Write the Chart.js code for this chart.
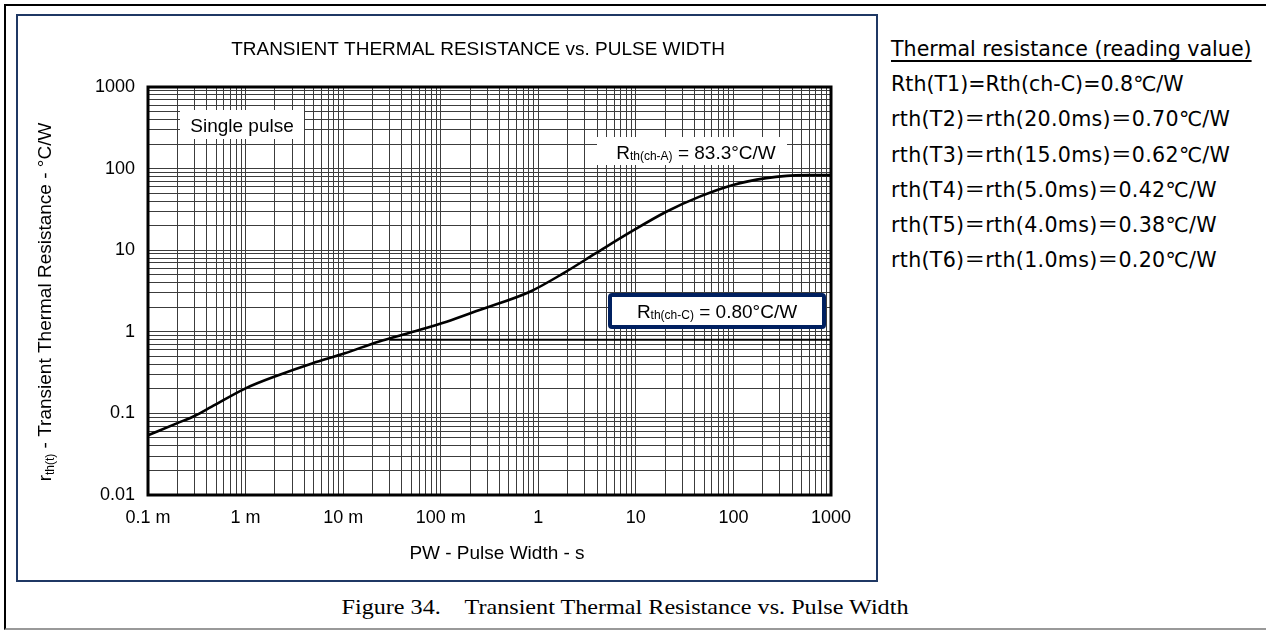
<!DOCTYPE html>
<html>
<head>
<meta charset="utf-8">
<title>Transient Thermal Resistance vs. Pulse Width</title>
<script src="https://cdn.jsdelivr.net/npm/chart.js@4.4.1/dist/chart.umd.min.js"></script>
<style>
  html, body { margin: 0; padding: 0; background: #fff; }
  #page { position: relative; width: 1266px; height: 632px; overflow: hidden; }
  #outer { position: absolute; left: 4px; top: 4px; width: 1270px; height: 622px;
           border-top: 2px solid #000; border-left: 2px solid #000; border-bottom: 2px solid #999; }
  #frame { position: absolute; left: 16px; top: 14px; width: 858px; height: 564px;
           border: 2px solid #1f3864; }
  #chartBox { position: absolute; left: 0; top: 0; }
  #readings { position: absolute; left: 891px; top: 32px; font-family: "DejaVu Sans", "Noto Sans CJK JP", sans-serif;
              font-size: 20.6px; line-height: 35.2px; color: #000; white-space: nowrap; }
  #readings .head { text-decoration: underline; text-decoration-thickness: 2px; text-underline-offset: 4px; }
  #readings .eq { letter-spacing: 0.3px; }
  #caption { position: absolute; left: 0; width: 1250px; top: 595px; text-align: center;
             font-family: "Liberation Serif", "Times New Roman", serif; font-size: 21px; color: #000;
             white-space: pre; transform: scaleX(1.15); transform-origin: 625px 0; }
</style>
</head>
<body>
<div id="page">
  <div id="outer"></div>
  <div id="frame"></div>
  <canvas id="chartBox" width="880" height="585"></canvas>
  <div id="readings"></div>
  <div id="caption"></div>
</div>

<script>
// pulse width (s) and transient thermal resistance (°C/W), single pulse
var pulseWidth   = [1e-4, 2e-4, 3e-4, 4.5e-4, 1e-3, 2.2e-3, 4.8e-3, 0.0104, 0.023, 0.052,
                    0.115, 0.25, 0.82, 1.8, 3.9, 8.6, 20.5, 45, 99, 217, 350, 600, 1000];
var transientRth = [0.054, 0.076, 0.093, 0.121, 0.203, 0.296, 0.41, 0.545, 0.757, 1.0,
                    1.33, 1.85, 3.1, 5.2, 9.2, 16.4, 29.6, 45.3, 63, 76.5, 81.5, 83.1, 83.3];

// steady state values
var rthChC = 0.80;
var rthChA = 83.3;
var rthChCFrom = 0.03;

// axis decades and their labels
var xDecades = [1e-4, 1e-3, 1e-2, 1e-1, 1, 10, 100, 1000];
var xTickLabels = ["0.1 m", "1 m", "10 m", "100 m", "1", "10", "100", "1000"];
var yDecades = [0.01, 0.1, 1, 10, 100, 1000];
var yTickLabels = ["0.01", "0.1", "1", "10", "100", "1000"];
var minorSteps = [1, 2, 3, 4, 5, 6, 7, 8, 9];

var readingLines = [
  "Thermal resistance (reading value)",
  "Rth(T1)=Rth(ch-C)=0.8℃/W",
  "rth(T2)＝rth(20.0ms)＝0.70℃/W",
  "rth(T3)＝rth(15.0ms)＝0.62℃/W",
  "rth(T4)＝rth(5.0ms)＝0.42℃/W",
  "rth(T5)＝rth(4.0ms)＝0.38℃/W",
  "rth(T6)＝rth(1.0ms)＝0.20℃/W"
];
var captionText = "Figure 34.    Transient Thermal Resistance vs. Pulse Width";

var FONT = "'Liberation Sans', Arial, sans-serif";

// side text
var rd = document.getElementById("readings");
readingLines.forEach(function (s, i) {
  var d = document.createElement("div");
  d.textContent = s;
  d.className = i === 0 ? "head" : (i > 1 ? "eq" : "");
  rd.appendChild(d);
});
document.getElementById("caption").textContent = captionText;

function gridTicks(decades) {
  var t = [];
  for (var i = 0; i < decades.length; i++) {
    if (i === decades.length - 1) { t.push({value: decades[i]}); break; }
    for (var j = 0; j < minorSteps.length; j++) {
      t.push({value: +(decades[i] * minorSteps[j]).toPrecision(6)});
    }
  }
  return t;
}

function labelFor(decades, labels) {
  return function (value) {
    for (var i = 0; i < decades.length; i++) {
      if (Math.abs(value / decades[i] - 1) < 1e-6) return labels[i];
    }
    return "";
  };
}

// draws text made of runs, some of them subscripts
function drawRuns(ctx, runs, x, y, align) {
  var w = 0;
  runs.forEach(function (r) { ctx.font = r.size + "px " + FONT; r.w = ctx.measureText(r.t).width; w += r.w; });
  var cx = align === "center" ? x - w / 2 : x;
  ctx.textAlign = "left";
  ctx.textBaseline = "alphabetic";
  runs.forEach(function (r) {
    ctx.font = r.size + "px " + FONT;
    ctx.fillText(r.t, cx, y + (r.dy || 0));
    cx += r.w;
  });
  return w;
}

var decorPlugin = {
  id: "decor",
  afterDatasetsDraw: function (chart) {
    var ctx = chart.ctx, a = chart.chartArea;
    ctx.save();

    // "Single pulse" label
    ctx.fillStyle = "#fff";
    ctx.fillRect(a.left + 32, a.top + 23, 124, 29);
    ctx.fillStyle = "#000";
    drawRuns(ctx, [{t: "Single pulse", size: 19}], a.left + 94, a.top + 45, "center");

    // Rth(ch-A) label
    ctx.fillStyle = "#fff";
    ctx.fillRect(a.left + 449, a.top + 50, 190, 28);
    ctx.fillStyle = "#000";
    drawRuns(ctx, [{t: "R", size: 19}, {t: "th(ch-A)", size: 12, dy: 1},
                   {t: " = " + rthChA.toFixed(1) + "°C/W", size: 19}], a.left + 548, a.top + 72, "center");

    // Rth(ch-C) label in a framed box
    ctx.fillStyle = "#fff";
    ctx.strokeStyle = "#002060";
    ctx.lineWidth = 4;
    ctx.beginPath();
    ctx.roundRect(a.left + 462, a.top + 208, 214, 32, 2);
    ctx.fill();
    ctx.stroke();
    ctx.fillStyle = "#000";
    drawRuns(ctx, [{t: "R", size: 19}, {t: "th(ch-C)", size: 12, dy: 1},
                   {t: " = " + rthChC.toFixed(2) + "°C/W", size: 19}], a.left + 569, a.top + 231, "center");

    // plot frame
    ctx.strokeStyle = "#000";
    ctx.lineWidth = 3;
    ctx.strokeRect(a.left, a.top, a.right - a.left, a.bottom - a.top);
    ctx.restore();
  },
  afterDraw: function (chart) {
    var ctx = chart.ctx;
    ctx.save();
    ctx.fillStyle = "#000";
    // chart title
    drawRuns(ctx, [{t: "TRANSIENT THERMAL RESISTANCE vs. PULSE WIDTH", size: 19}], 478, 55, "center");
    // x axis title
    drawRuns(ctx, [{t: "PW - Pulse Width - s", size: 19}], 497, 559, "center");
    // y axis title
    ctx.translate(51, 302);
    ctx.rotate(-Math.PI / 2);
    drawRuns(ctx, [{t: "r", size: 19}, {t: "th(t)", size: 12, dy: 3},
                   {t: " - Transient Thermal Resistance - °C/W", size: 19}], 0, 0, "center");
    ctx.restore();
  }
};

var curve = pulseWidth.map(function (t, i) { return {x: t, y: transientRth[i]}; });
var caseLine = [{x: rthChCFrom, y: rthChC}, {x: 1000, y: rthChC}];

new Chart(document.getElementById("chartBox").getContext("2d"), {
  type: "line",
  data: {
    datasets: [
      {data: curve, borderColor: "#000", borderWidth: 2.6, pointRadius: 0, fill: false,
       cubicInterpolationMode: "monotone"},
      {data: caseLine, borderColor: "#000", borderWidth: 2, pointRadius: 0, fill: false}
    ]
  },
  options: {
    responsive: false,
    animation: false,
    devicePixelRatio: 1,
    layout: {padding: {left: 20, top: 87, right: 49, bottom: 50}},
    plugins: {legend: {display: false}, tooltip: {enabled: false}, title: {display: false}},
    scales: {
      x: {
        type: "logarithmic",
        min: xDecades[0],
        max: xDecades[xDecades.length - 1],
        afterBuildTicks: function (scale) { scale.ticks = gridTicks(xDecades); },
        afterFit: function (scale) { scale.height = 40; },
        grid: {color: "#3c3c3c", lineWidth: 1, drawTicks: false},
        border: {display: false},
        ticks: {autoSkip: false, maxRotation: 0, padding: 12, color: "#000",
                font: {family: FONT, size: 18}, callback: labelFor(xDecades, xTickLabels)}
      },
      y: {
        type: "logarithmic",
        min: yDecades[0],
        max: yDecades[yDecades.length - 1],
        afterBuildTicks: function (scale) { scale.ticks = gridTicks(yDecades); },
        afterFit: function (scale) { scale.width = 128; },
        grid: {color: "#3c3c3c", lineWidth: 1, drawTicks: false},
        border: {display: false},
        ticks: {autoSkip: false, padding: 13, color: "#000",
                font: {family: FONT, size: 18}, callback: labelFor(yDecades, yTickLabels)}
      }
    }
  },
  plugins: [decorPlugin]
});
</script>
</body>
</html>
